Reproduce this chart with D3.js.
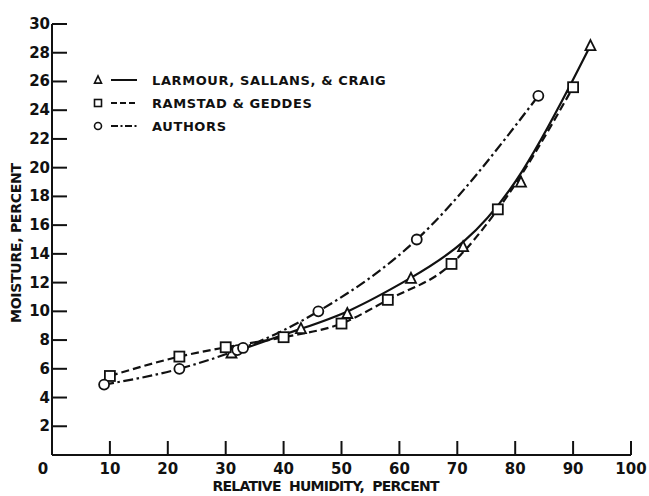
<!DOCTYPE html>
<html>
<head>
<meta charset="utf-8">
<script src="https://cdn.jsdelivr.net/npm/d3@7"></script>
<style>
  body { margin: 0; background: #fff; }
  text { font-family: "DejaVu Sans", sans-serif; font-weight: bold; fill: #111; }
</style>
</head>
<body>
<svg id="chart" width="649" height="496"></svg>
<script>
// values
var larmourRH  = [31, 43, 51, 62, 71, 81, 93];
var larmourMC  = [7.1, 8.8, 9.85, 12.3, 14.5, 19.0, 28.5];
var ramstadRH  = [10, 22, 30, 40, 50, 58, 69, 77, 90];
var ramstadMC  = [5.5, 6.85, 7.5, 8.2, 9.15, 10.8, 13.3, 17.1, 25.6];
var authorsRH  = [9, 22, 32, 33, 46, 63, 84];
var authorsMC  = [4.9, 6.0, 7.3, 7.45, 10.0, 15.0, 25.0];
var xTicks = [10, 20, 30, 40, 50, 60, 70, 80, 90, 100];
var xLabels = [0, 10, 20, 30, 40, 50, 60, 70, 80, 90, 100];
var yTicks = [2, 4, 6, 8, 10, 12, 14, 16, 18, 20, 22, 24, 26, 28, 30];
var legendNames = ["LARMOUR, SALLANS, & CRAIG", "RAMSTAD & GEDDES", "AUTHORS"];

var svg = d3.select('#chart');
var x = d3.scaleLinear().domain([0, 100]).range([52, 631]);
var y = d3.scaleLinear().domain([0, 30]).range([455, 24]);

function zip(a, b){ return a.map(function(v, i){ return [v, b[i]]; }); }

// larmour's curve is a smoothed fit (misses the 62% point), the others go through their points
var series = [
  {name: legendNames[0], data: zip(larmourRH, larmourMC), dash: null,             marker: 'tri',  curve: d3.curveBasis},
  {name: legendNames[1], data: zip(ramstadRH, ramstadMC), dash: '8,4',            marker: 'sq',   curve: d3.curveMonotoneX},
  {name: legendNames[2], data: zip(authorsRH, authorsMC), dash: '10,3.5,2.5,3.5', marker: 'circ', curve: d3.curveMonotoneX}
];

// axes
var ax = svg.append('g').attr('stroke', '#111').attr('stroke-width', 2);
ax.append('line').attr('x1', x(0)).attr('x2', x(100)).attr('y1', y(0)).attr('y2', y(0));
ax.append('line').attr('x1', x(0)).attr('x2', x(0)).attr('y1', y(0)).attr('y2', y(30));
ax.selectAll('line.xt').data(xTicks).enter().append('line')
  .attr('x1', d => x(d)).attr('x2', d => x(d))
  .attr('y1', y(0)).attr('y2', y(0) - 14);
ax.selectAll('line.yt').data(yTicks).enter().append('line')
  .attr('x1', x(0)).attr('x2', x(0) + 15)
  .attr('y1', d => y(d)).attr('y2', d => y(d));

svg.selectAll('text.xl').data(xLabels).enter().append('text')
  .attr('x', d => d == 0 ? x(0) - 9 : x(d))
  .attr('y', y(0) + 19)
  .attr('text-anchor', 'middle')
  .attr('font-size', 15)
  .text(d => d);
svg.selectAll('text.yl').data(yTicks).enter().append('text')
  .attr('x', x(0) - 2)
  .attr('y', d => y(d) + 5)
  .attr('text-anchor', 'end')
  .attr('font-size', 15)
  .text(d => d);

svg.append('text')
  .attr('x', 326).attr('y', 491)
  .attr('text-anchor', 'middle')
  .attr('font-size', 14)
  .attr('textLength', 227)
  .attr('xml:space', 'preserve')
  .text('RELATIVE  HUMIDITY,  PERCENT');
svg.append('text')
  .attr('transform', 'translate(21,243) rotate(-90)')
  .attr('text-anchor', 'middle')
  .attr('font-size', 14)
  .attr('textLength', 160)
  .text('MOISTURE, PERCENT');

// curves
series.forEach(function(s){
  var line = d3.line().x(d => x(d[0])).y(d => y(d[1])).curve(s.curve);
  svg.append('path')
    .attr('d', line(s.data))
    .attr('fill', 'none')
    .attr('stroke', '#111')
    .attr('stroke-width', 2.2)
    .attr('stroke-dasharray', s.dash);
});

function drawMarker(g, type, cx, cy, size){
  if(type == 'tri'){
    var h = size * 0.9;
    g.append('path')
      .attr('d', 'M' + cx + ',' + (cy - h/2 - 1) + 'L' + (cx + size/2) + ',' + (cy + h/2) + 'L' + (cx - size/2) + ',' + (cy + h/2) + 'Z');
  } else if(type == 'sq'){
    g.append('rect').attr('x', cx - size/2).attr('y', cy - size/2).attr('width', size).attr('height', size);
  } else {
    g.append('circle').attr('cx', cx).attr('cy', cy).attr('r', size/2);
  }
}

var marks = svg.append('g').attr('fill', '#fff').attr('stroke', '#111').attr('stroke-width', 1.8);
series.forEach(function(s){
  s.data.forEach(function(d){
    drawMarker(marks, s.marker, x(d[0]), y(d[1]), 10);
  });
});

// legend
var leg = svg.append('g');
series.forEach(function(s, i){
  var ly = 80 + i * 23;
  drawMarker(leg.append('g').attr('fill', '#fff').attr('stroke', '#111').attr('stroke-width', 1.6), s.marker, 98, ly, 7);
  leg.append('line')
    .attr('x1', 111).attr('x2', 137).attr('y1', ly).attr('y2', ly)
    .attr('stroke', '#111').attr('stroke-width', 2)
    .attr('stroke-dasharray', s.dash == null ? null : (i == 1 ? '6,3' : '7,2.5,2,2.5'));
  leg.append('text')
    .attr('x', 152).attr('y', ly + 5)
    .attr('font-size', 13)
    .attr('letter-spacing', 0.6)
    .text(s.name);
});
</script>
</body>
</html>
